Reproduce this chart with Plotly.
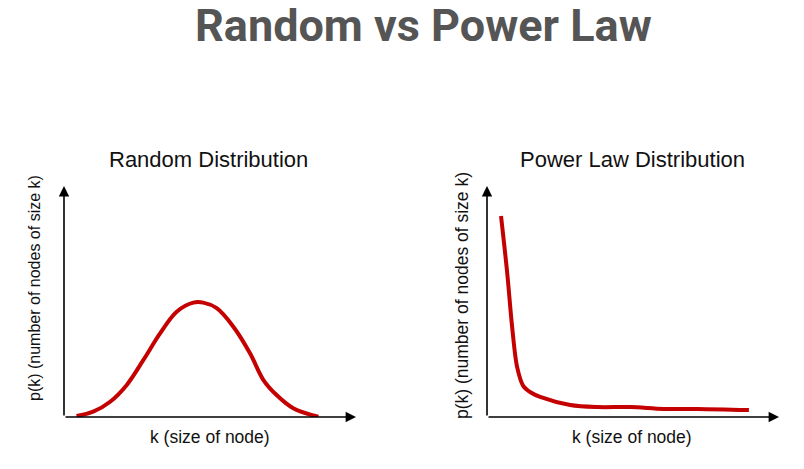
import plotly.graph_objects as go

W, H = 804, 469

# Random distribution (bell curve), x/y in axis units 0..100
rand_k = [4.3, 10.0, 15.8, 21.5, 27.2, 32.9, 38.6, 44.3, 47.7, 52.3, 58.0, 63.7, 68.3, 72.8, 78.5, 87.1]
rand_p = [0.4, 2.3, 6.6, 13.9, 24.7, 36.2, 45.6, 49.5, 49.5, 47.1, 39.1, 27.6, 16.0, 9.5, 3.8, 0.1]

# Power law distribution
pow_k = [4.8, 6.9, 8.6, 10.3, 12.4, 15.0, 18.2, 28.5, 37.8, 49.1, 60.5, 72.2, 89.7]
pow_p = [87.0, 62.6, 39.1, 21.7, 13.5, 10.6, 8.7, 5.2, 4.3, 4.3, 3.5, 3.5, 3.0]

main_title = "Random vs Power Law"
sub_titles = ["Random Distribution", "Power Law Distribution"]
x_label = "k (size of node)"
y_label = "p(k) (number of nodes of size k)"

RED = "#c40000"

def px_x(p):
    return p / W

def px_y(p):
    return 1 - p / H

fig = go.Figure()
fig.add_trace(go.Scatter(x=rand_k, y=rand_p, mode="lines", line=dict(color=RED, width=4, shape="spline", smoothing=1.0),
                         xaxis="x", yaxis="y", showlegend=False, hoverinfo="skip"))
fig.add_trace(go.Scatter(x=pow_k, y=pow_p, mode="lines", line=dict(color=RED, width=4, shape="spline", smoothing=0.9),
                         xaxis="x2", yaxis="y2", showlegend=False, hoverinfo="skip"))

ax_common = dict(range=[0, 100], showgrid=False, zeroline=False, showticklabels=False,
                 ticks="", showline=False, fixedrange=True)

fig.update_layout(
    width=W, height=H,
    margin=dict(l=0, r=0, t=0, b=0),
    paper_bgcolor="white", plot_bgcolor="white",
    xaxis=dict(domain=[px_x(64), px_x(356)], anchor="y", **ax_common),
    yaxis=dict(domain=[px_y(417), px_y(186)], anchor="x", **ax_common),
    xaxis2=dict(domain=[px_x(487), px_x(779)], anchor="y2", **ax_common),
    yaxis2=dict(domain=[px_y(417), px_y(186)], anchor="x2", **ax_common),
    showlegend=False,
)

annotations = []
# axis arrows
for xa, ya in [("x", "y"), ("x2", "y2")]:
    annotations.append(dict(x=100, y=0, ax=0, ay=0, xref=xa, yref=ya, axref=xa, ayref=ya,
                            showarrow=True, arrowhead=2, arrowsize=1.3, arrowwidth=1.6,
                            arrowcolor="black", text=""))
    annotations.append(dict(x=0, y=100, ax=0, ay=0, xref=xa, yref=ya, axref=xa, ayref=ya,
                            showarrow=True, arrowhead=2, arrowsize=1.3, arrowwidth=1.6,
                            arrowcolor="black", text=""))

font_txt = "Liberation Sans, Arial, sans-serif"
# subplot titles
for cx, t in [(208.5, sub_titles[0]), (632.5, sub_titles[1])]:
    annotations.append(dict(x=px_x(cx), y=px_y(160), xref="paper", yref="paper", text=t, showarrow=False,
                            font=dict(family=font_txt, size=22, color="#111"), xanchor="center", yanchor="middle"))
# x labels
for cx in [209.5, 632]:
    annotations.append(dict(x=px_x(cx), y=px_y(437), xref="paper", yref="paper", text=x_label, showarrow=False,
                            font=dict(family=font_txt, size=17.5, color="#111"), xanchor="center", yanchor="middle"))
# y labels
for cx, cy, fs in [(34, 288, 16), (462, 296, 17.5)]:
    annotations.append(dict(x=px_x(cx), y=px_y(cy), xref="paper", yref="paper", text=y_label, showarrow=False,
                            textangle=-90, font=dict(family=font_txt, size=fs, color="#111"),
                            xanchor="center", yanchor="middle"))
# main title
annotations.append(dict(x=px_x(423), y=px_y(-3), xref="paper", yref="paper", text="<b>" + main_title + "</b>",
                        showarrow=False, font=dict(family="Roboto, sans-serif", size=45, color="#555555"),
                        xanchor="center", yanchor="top"))

fig.update_layout(annotations=annotations)
fig.write_html("out.html", config={"displayModeBar": False},
               post_script="document.body.style.margin='0';")
